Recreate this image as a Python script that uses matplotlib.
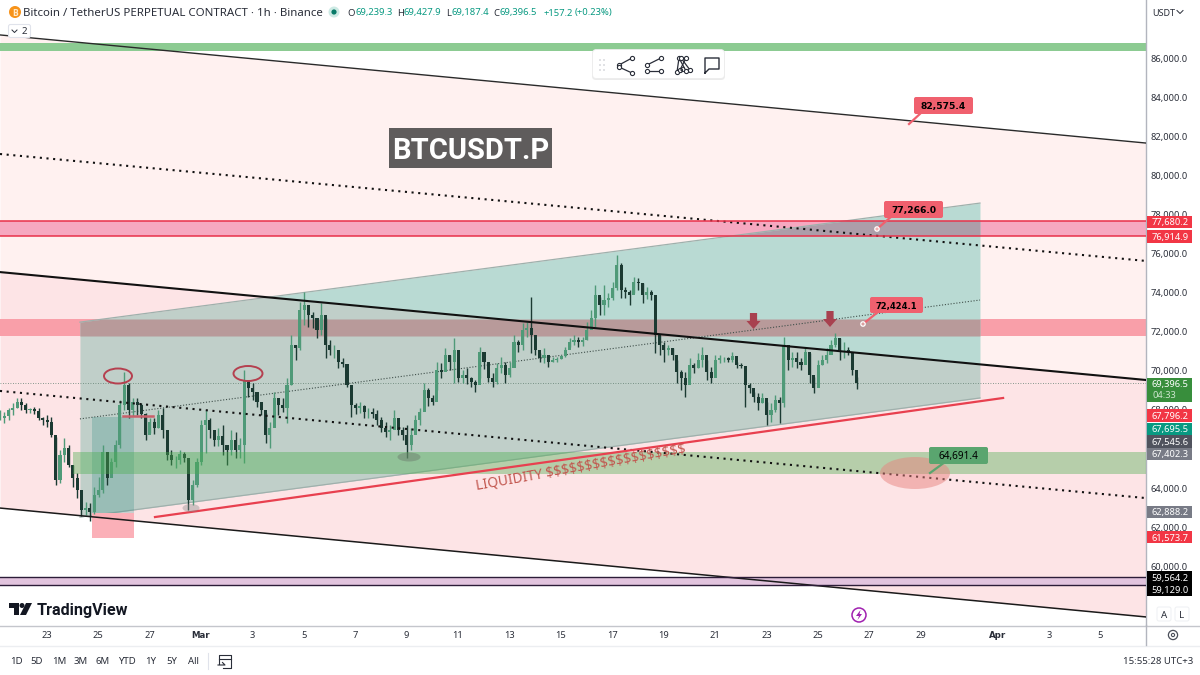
import numpy as np
import matplotlib
matplotlib.use("Agg")
import matplotlib.pyplot as plt
from matplotlib.patches import Ellipse, FancyBboxPatch, Polygon, Rectangle, Circle

plt.rcParams['font.family'] = ['Noto Sans', 'DejaVu Sans']

# ---- data: 4-hour bars, prices in thousands of USDT
first_bar_day = -7.82   # days relative to 1 March
highs = [68.00,67.90,68.10,68.36,68.61,68.61,68.36,68.10,68.15,68.10,67.64,67.74,67.64,66.61,65.95,66.56,66.20,65.18,64.77,63.91,63.29,63.24,64.06,64.57,66.20,65.79,65.54,66.46,68.51,69.94,69.38,68.61,68.61,68.36,67.84,67.59,67.59,68.00,68.10,66.97,65.95,65.64,65.95,65.85,65.44,64.42,65.54,67.49,68.00,67.59,66.97,67.07,
 67.23,66.20,66.97,66.87,66.56,70.04,69.43,69.38,68.76,68.41,67.84,67.38,68.92,68.61,68.61,69.63,71.83,71.32,73.52,74.03,73.21,73.01,72.60,73.47,72.70,71.58,71.32,71.07,70.65,70.30,69.28,68.36,68.41,68.25,68.10,68.10,68.00,67.64,67.38,67.23,68.00,67.38,67.13,67.23,67.07,67.74,68.10,69.38,69.12,68.76,70.45,
 70.40,71.17,70.81,71.68,70.30,70.04,70.14,69.68,69.53,71.22,70.70,70.14,69.89,70.40,70.70,70.45,70.45,71.83,71.58,72.45,72.50,73.78,71.42,70.91,71.17,70.70,70.70,70.70,70.81,71.22,71.68,71.83,71.73,71.73,72.50,73.11,74.39,73.78,74.39,73.98,74.55,75.93,75.52,74.29,74.13,74.80,74.75,74.50,74.29,74.13,
 73.11,71.83,71.48,71.32,71.17,70.55,70.04,69.94,70.65,70.40,70.91,71.22,70.55,70.19,70.81,70.81,70.70,70.70,70.96,70.45,70.40,70.14,69.38,68.92,68.87,68.87,68.41,68.36,68.76,68.66,71.73,71.17,70.96,70.96,70.65,71.22,70.91,69.68,70.55,70.81,71.17,71.58,71.93,71.68,71.48,71.22,70.81,69.68]
lows = [67.49,67.33,67.49,67.74,68.10,68.00,67.84,67.84,67.79,67.49,67.23,67.13,66.61,64.16,64.26,65.34,65.08,64.06,63.50,62.57,62.62,62.32,62.67,63.55,63.75,64.16,64.62,65.08,66.05,68.00,67.59,67.69,67.74,67.59,66.46,66.82,66.77,67.07,66.56,65.44,65.18,65.03,65.23,65.34,62.88,63.13,64.06,65.18,65.79,66.56,66.15,66.15,
 65.69,65.18,65.69,65.54,65.54,65.28,68.66,68.51,68.15,67.74,66.31,66.05,67.59,67.74,67.90,67.33,69.28,70.55,71.07,72.34,72.24,72.19,71.68,71.83,70.65,70.81,70.65,70.14,70.19,69.17,67.64,67.79,67.84,67.59,67.59,67.59,67.23,66.87,66.61,66.46,67.13,66.71,66.46,65.54,65.95,66.87,67.23,68.10,68.20,68.25,69.02,
 69.63,70.14,70.04,69.38,69.43,69.38,69.33,69.17,68.92,69.63,70.09,69.43,69.17,69.33,69.89,69.38,69.68,70.45,70.96,71.07,71.73,70.91,70.81,70.45,70.40,70.19,70.45,70.45,70.60,70.70,71.22,71.32,71.22,71.27,71.58,72.19,72.24,72.85,72.85,73.27,73.62,74.13,73.73,73.73,73.37,73.98,74.13,73.47,73.68,73.62,
 70.91,70.81,70.45,70.81,70.55,69.38,69.02,68.66,69.63,69.89,70.14,70.19,69.53,69.38,69.89,70.40,70.45,70.45,70.45,70.14,70.14,68.15,68.87,68.41,68.00,68.36,67.23,67.38,67.90,67.33,68.15,70.04,70.19,70.14,70.04,70.40,69.38,68.87,69.53,70.30,70.40,70.91,71.22,70.55,70.65,70.81,69.79,69.07]
closes = [67.59,67.69,68.00,68.10,68.41,68.25,68.00,68.05,67.95,67.59,67.49,67.38,66.71,64.42,65.69,66.05,65.18,64.52,63.91,62.88,62.98,62.78,63.65,63.91,65.85,64.52,65.34,66.20,68.25,69.28,68.00,68.41,68.25,67.79,66.71,67.38,67.07,67.74,66.97,65.69,65.44,65.44,65.74,65.54,63.39,64.16,65.34,67.23,67.49,66.97,66.46,66.66,
 66.20,65.95,66.46,65.95,66.20,69.53,69.12,68.92,68.41,68.00,66.71,67.07,68.61,68.25,68.10,69.28,71.32,71.17,73.11,73.37,72.85,72.70,72.09,72.85,71.32,71.07,71.07,70.45,70.35,69.28,68.25,68.10,68.20,67.90,67.90,67.79,67.49,67.07,66.87,66.97,67.59,66.97,66.71,66.20,66.71,67.49,67.90,69.02,68.61,68.41,70.04,
 69.94,70.81,70.45,71.07,69.63,69.79,69.63,69.43,69.28,70.96,70.45,69.63,69.43,70.14,70.30,69.79,70.14,71.48,71.32,72.09,72.19,71.83,71.07,70.65,70.81,70.45,70.55,70.60,70.76,71.07,71.48,71.58,71.48,71.58,72.09,72.70,73.88,73.37,73.62,73.73,74.24,75.41,74.13,74.03,73.88,74.55,74.50,73.88,74.03,73.88,
 71.83,71.32,71.07,71.17,70.81,69.94,69.63,69.28,70.30,70.14,70.55,70.81,69.94,69.63,70.55,70.65,70.65,70.55,70.76,70.30,70.25,69.28,69.12,68.66,68.36,68.61,67.74,68.00,68.51,68.36,71.32,70.55,70.65,70.45,70.30,70.96,69.79,69.12,70.30,70.55,70.81,71.32,71.68,71.07,71.07,70.96,70.04,69.40]

# axis ticks (66,000 sits fully behind the price labels in the reference)
price_ticks = [60000,62000,64000,68000,70000,72000,74000,76000,78000,80000,82000,84000,86000]
date_tick_days = [-6,-4,-2,0,2,4,6,8,10,12,14,16,18,20,22,24,26,28,31,33,35]
date_tick_labels = ['23','25','27','Mar','3','5','7','9','11','13','15','17','19','21','23','25','27','29','Apr','3','5']

# descending channel: prices (thousands) at the left and right chart edges
edge_days = [-7.82, 36.77]
ch_top = [87.18, 81.65]
ch_upper_dot = [81.09, 75.62]
ch_mid = [75.05, 69.53]
ch_lower_dot = [68.97, 63.49]
ch_bottom = [62.98, 57.41]

# rising channel
rise_days = [-4.71, 30.31]
rise_top = [72.49, 78.58]
rise_mid = [67.54, 73.62]
rise_bottom = [62.52, 68.61]
trend_days = [-1.79, 31.21]
trend_prices = [62.52, 68.61]

# horizontal zones (thousands)
zone_top_green = (86.36, 86.77)
zone_red_high = (76.915, 77.680)
zone_red_mid = (71.78, 72.65)
zone_liquidity = (64.72, 65.85)
zone_purple = (59.06, 59.47)
last_price = 69.3965

# ---- figure
W, H = 1200, 675
fig = plt.figure(figsize=(12, 6.75), dpi=100, facecolor='white')
ax = fig.add_axes([0, 50/H, 1146/W, 625/H])
ax.set_xlim(-7.82, 36.77)
ax.set_ylim(56998, 88967)
ax.set_facecolor('white')
k = 1000.0

def arr(v):
    return np.array(v, dtype=float) * k

xs = np.linspace(edge_days[0], edge_days[1], 1200)
def line(days, vals, x=xs):
    slope = (vals[1]-vals[0])/(days[1]-days[0])
    return k*(vals[0] + slope*(x-days[0]))

# channel fills
ax.fill_between(xs, line(edge_days, ch_top), line(edge_days, ch_mid), color='#fff1f0', lw=0, zorder=1)
ax.fill_between(xs, line(edge_days, ch_mid), line(edge_days, ch_bottom), color='#fde4e6', lw=0, zorder=1)

# outer parts of the zones
ax.axhspan(zone_red_high[0]*k, zone_red_high[1]*k, color='#f6a8c0', lw=0, zorder=1.5)
ax.axhspan(zone_red_mid[0]*k, zone_red_mid[1]*k, color='#f99fa9', lw=0, zorder=1.5)
ax.axhspan(zone_top_green[0]*k, zone_top_green[1]*k, color='#8ccb92', lw=0, zorder=1.5)
ax.axhspan(zone_purple[0]*k, zone_purple[1]*k, color='#e2c4de', lw=0, zorder=1.5)

# rising channel box, two tones either side of the black mid line
xr = np.linspace(rise_days[0], rise_days[1], 800)
rt = line(rise_days, rise_top, xr); rb = line(rise_days, rise_bottom, xr); blk = line(edge_days, ch_mid, xr)
ax.fill_between(xr, rt, np.maximum(blk, rb), where=rt > blk, color='#b9dad3', lw=0, zorder=2)
ax.fill_between(xr, np.minimum(rt, blk), rb, color='#c0cfc9', lw=0, zorder=2)
def inside(z, c):
    lo = np.maximum(z[0]*k, rb); hi = np.minimum(z[1]*k, rt)
    ax.fill_between(xr, lo, hi, where=hi > lo, color=c, lw=0, zorder=2.2)
inside(zone_red_high, '#ad9da9')
inside(zone_red_mid, '#b89a9a')
ax.plot(rise_days, arr(rise_top), color='#9fb0ac', lw=0.9, zorder=2.4)
ax.plot(rise_days, arr(rise_bottom), color='#9fb0ac', lw=0.9, zorder=2.4)
ax.plot(rise_days, arr(rise_mid), color='#3f4f4a', lw=0.8, ls=(0, (1, 1.6)), zorder=2.6)

# last price line
ax.axhline(last_price*k, color='#5f7f70', lw=0.6, ls=(0, (1, 2)), zorder=2.5)

# long position tool
ax.add_patch(Rectangle((-4.24, 62730), 1.63, 4910, color='#00786e', alpha=0.2, lw=0, zorder=2.7))
ax.add_patch(Rectangle((-4.24, 61450), 1.63, 1280, color='#fbb0b8', lw=0, zorder=2.7))

# candles
h, l, c = arr(highs), arr(lows), arr(closes)
assert len(h) == len(l) == len(c)
o = np.r_[c[0], c[:-1]]
days = first_bar_day + np.arange(len(c))/6.0
up = c >= o
ax.vlines(days[up], l[up], h[up], color='#4f9a78', lw=1.0, zorder=3)
ax.vlines(days[~up], l[~up], h[~up], color='#1b3a32', lw=1.0, zorder=3)
ax.bar(days[up], (c-o)[up], bottom=o[up], width=0.12, color='#4f9a78', lw=0, zorder=3.1)
ax.bar(days[~up], (o-c)[~up], bottom=c[~up], width=0.12, color='#1b3a32', lw=0, zorder=3.1)

# green liquidity zone over the candles
ax.fill_between([-4.98, 36.77], zone_liquidity[0]*k, zone_liquidity[1]*k, color='#4caf50', alpha=0.4, lw=0, zorder=3.5)

# channel lines
ax.plot(edge_days, arr(ch_top), color='#2a2a2a', lw=1.0, zorder=5)
ax.plot(edge_days, arr(ch_upper_dot), color='#111111', lw=1.5, ls=(0, (1, 2.2)), zorder=5)
ax.plot(edge_days, arr(ch_mid), color='#111111', lw=1.5, zorder=5)
ax.plot(edge_days, arr(ch_lower_dot), color='#111111', lw=1.5, ls=(0, (1, 2.2)), zorder=5)
ax.plot(edge_days, arr(ch_bottom), color='#1a1a1a', lw=1.1, zorder=5)
ax.plot(trend_days, arr(trend_prices), color='#e8404f', lw=1.6, zorder=5)

# zone borders
for v in zone_red_high:
    ax.axhline(v*k, color='#e8314a', lw=1.1, zorder=5)
for v in zone_purple:
    ax.axhline(v*k, color='#2c1c38', lw=1.0, zorder=5)

# axes / ticks
ax.yaxis.tick_right()
ax.set_yticks(price_ticks)
ax.set_yticklabels([f'{p:,.1f}' for p in price_ticks], fontsize=6.7, color='#2a2e39')
ax.set_xticks(date_tick_days)
ax.set_xticklabels(date_tick_labels, fontsize=6.7, color='#2a2e39')
for t in ax.get_xticklabels():
    if t.get_text() in ('Mar', 'Apr'):
        t.set_fontweight('bold')
        t.set_family('DejaVu Sans')
        t.set_fontsize(6.2)
ax.tick_params(axis='both', length=0)
ax.tick_params(axis='y', pad=3)
ax.tick_params(axis='x', pad=4)
for s in ('top', 'left', 'bottom'):
    ax.spines[s].set_visible(False)
ax.spines['right'].set_color('#b2b5be')
ax.spines['right'].set_linewidth(1)

# ---- overlay in picture pixels: chart annotations and interface chrome
ui = fig.add_axes([0, 0, 1, 1], facecolor='none')
ui.set_xlim(0, W); ui.set_ylim(H, 0); ui.axis('off')

def tag(x0, y0, x1, y1, fc, text, tc='black', fs=6.6, r=2):
    ui.add_patch(FancyBboxPatch((x0+r, y0+r), x1-x0-2*r, y1-y0-2*r, boxstyle=f'round,pad={r},rounding_size={r}',
                                fc=fc, ec='none', zorder=8))
    ui.text((x0+x1)/2, (y0+y1)/2, text, ha='center', va='center_baseline', fontsize=fs, color=tc,
            family='DejaVu Sans', fontweight='bold', zorder=9)

# ellipses
ui.add_patch(Ellipse((118, 376), 28, 15, fc='none', ec='#b5404f', lw=1.4, zorder=6))
ui.add_patch(Ellipse((248, 373.5), 29, 15, fc='none', ec='#b5404f', lw=1.4, zorder=6))
ui.add_patch(Ellipse((191, 508), 17, 8, fc='#8a8a8a', ec='none', alpha=0.4, zorder=6))
ui.add_patch(Ellipse((409, 457), 23, 9, fc='#6f7f70', ec='none', alpha=0.5, zorder=6))
ui.add_patch(Ellipse((915, 473), 70, 32, fc='#e8837f', ec='none', alpha=0.5, zorder=6))
ui.plot([123, 153], [415.7, 415.7], color='#c9606b', lw=1.8, zorder=6)

# arrows
for cx, y0 in ((753.5, 313), (830, 311)):
    ui.add_patch(Polygon([(cx-3.6, y0), (cx+3.6, y0), (cx+3.6, y0+8), (cx+7, y0+8), (cx, y0+16), (cx-7, y0+8), (cx-3.6, y0+8)],
                         fc='#a8414f', ec='none', zorder=7))

# price callouts
ui.plot([909, 922], [124, 112], color='#f0606e', lw=1.6, zorder=7)
tag(914, 97, 973, 114, '#f0606e', '82,575.4')
ui.plot([877, 892], [229, 216], color='#f0606e', lw=1.6, zorder=7)
ui.add_patch(Circle((877, 229), 2.2, fc='#f0b0b0', ec='white', lw=0.9, zorder=8))
tag(884, 201, 943, 218, '#f0606e', '77,266.0')
ui.plot([863, 878], [324, 312], color='#f0606e', lw=1.6, zorder=7)
ui.add_patch(Circle((863, 324), 2.2, fc='#d9a0a0', ec='white', lw=0.9, zorder=8))
tag(870, 297, 923, 313, '#f0606e', '72,424.1', fs=6.0)
ui.plot([930, 945], [473, 462], color='#5aa56f', lw=1.6, zorder=7)
ui.add_patch(FancyBboxPatch((931, 449), 55, 13, boxstyle='round,pad=2,rounding_size=2', fc='#5aa56f', ec='none', zorder=8))
ui.text(958.5, 455.5, '64,691.4', ha='center', va='center_baseline', fontsize=7.2, color='black', zorder=9)

ui.text(477, 490, 'LIQUIDITY $$$$$$$$$$$$$$$$$$', rotation=10, rotation_mode='anchor', ha='left', va='baseline',
        fontsize=9.85, color='#c2574f', zorder=7, parse_math=False)

ui.add_patch(Rectangle((389, 128), 163, 40, fc='#5f5c5c', ec='none', zorder=7))
ui.text(470.5, 148, 'BTCUSDT.P', ha='center', va='center_baseline', fontsize=21, color='white',
        family='Roboto', fontweight='bold', zorder=8)

# right scale labels
def plabel(y0, y1, fc, text, tc='white'):
    ui.add_patch(Rectangle((1147, y0), 45, y1-y0, fc=fc, ec='none', zorder=8))
    ui.text(1170, (y0+y1)/2, text, ha='center', va='center_baseline', fontsize=6.7, color=tc, zorder=9)
plabel(216, 228, '#f23645', '77,680.2')
plabel(230, 243, '#f23645', '76,914.9')
ui.add_patch(Rectangle((1147, 378), 45, 24, fc='#388e3c', ec='none', zorder=8))
ui.text(1170, 384, '69,396.5', ha='center', va='center_baseline', fontsize=6.7, color='white', zorder=9)
ui.text(1164, 395, '04:33', ha='center', va='center_baseline', fontsize=6.7, color='#cde5ce', zorder=9)
plabel(409, 422, '#f23645', '67,796.2')
plabel(422.5, 435, '#089981', '67,695.5')
plabel(435, 448, '#50535e', '67,545.6')
plabel(448, 460, '#787b86', '67,402.3')
plabel(506, 518, '#787b86', '62,888.2')
plabel(531, 543, '#f23645', '61,573.7')
plabel(571, 583.5, '#000000', '59,564.2')
plabel(583.5, 596, '#000000', '59,129.0')

# chrome lines
ui.plot([0, 1200], [625.5, 625.5], color='#c4c6cc', lw=1, zorder=6)
ui.plot([0, 1200], [645.5, 645.5], color='#eceef1', lw=1, zorder=6)
ui.plot([1146, 1146], [625, 645], color='#b2b5be', lw=1, zorder=6)

# header
ui.add_patch(Circle((15, 12), 6, fc='#f7931a', ec='none', zorder=9))
ui.text(15, 12, 'B', ha='center', va='center_baseline', fontsize=5.5, color='#ffe8c8', fontweight='bold', family='DejaVu Sans', zorder=10)
ui.text(23, 12, 'Bitcoin / TetherUS PERPETUAL CONTRACT · 1h · Binance', ha='left', va='center_baseline', fontsize=8.25, color='#2a2e39', zorder=9)
ui.add_patch(Circle((334, 12), 5.5, fc='#cdeae4', ec='none', zorder=9))
ui.add_patch(Circle((334, 12), 2.6, fc='#087a68', ec='none', zorder=10))
for xt, s, col in ((347, 'O', '#2a2e39'), (355, '69,239.3', '#089981'), (397, 'H', '#2a2e39'), (403, '69,427.9', '#089981'),
                   (446, 'L', '#2a2e39'), (452, '69,187.4', '#089981'), (493, 'C', '#2a2e39'), (500, '69,396.5', '#089981'),
                   (543, '+157.2', '#089981'), (575, '(+0.23%)', '#089981')):
    ui.text(xt, 12, s, ha='left', va='center_baseline', fontsize=6.8, color=col, zorder=9)
ui.add_patch(FancyBboxPatch((9, 25), 21, 12, boxstyle='round,pad=0.5,rounding_size=2', fc='white', ec='#e0e3eb', lw=0.8, zorder=9))
ui.plot([12, 14.5, 17], [30, 32.5, 30], color='#2a2e39', lw=0.7, zorder=10)
ui.text(24, 31, '2', ha='center', va='center_baseline', fontsize=7, color='#2a2e39', zorder=10)
ui.text(1152, 12, 'USDT', ha='left', va='center_baseline', fontsize=6.5, color='#2a2e39', zorder=9)
ui.plot([1177, 1180, 1183], [10.5, 13.5, 10.5], color='#2a2e39', lw=0.7, zorder=9)

# floating toolbar
ui.add_patch(FancyBboxPatch((594, 52), 129, 26, boxstyle='round,pad=2,rounding_size=4', fc='#d9d9d9', ec='none', alpha=0.5, zorder=8))
ui.add_patch(FancyBboxPatch((594, 51), 129, 26, boxstyle='round,pad=1.5,rounding_size=4', fc='white', ec='#ececec', lw=0.6, zorder=8))
for gx in (600, 604):
    for gy in (60, 65, 70):
        ui.add_patch(Circle((gx, gy), 0.8, fc='#c4c6cc', ec='none', zorder=9))
def seg(pts):
    pts = np.array(pts, dtype=float)
    ui.plot(pts[:, 0], pts[:, 1], color='#2a2e39', lw=0.9, zorder=9)
    ui.plot(pts[:, 0], pts[:, 1], ls='none', marker='o', ms=3, mfc='white', mec='#2a2e39', mew=0.8, zorder=10)
seg([(632, 58), (619, 65)]); seg([(619, 67), (632, 73)])
seg([(661, 58), (647, 65)]); seg([(647, 71), (661, 71)])
seg([(677, 72), (679, 58), (686, 71)]); seg([(681, 58), (690, 70)]); seg([(686, 58), (680, 70)])
ui.text(682, 70, 'C', fontsize=5, ha='center', va='center', fontweight='bold', family='DejaVu Sans', color='#2a2e39', zorder=10)
ui.plot([705, 705, 719, 719, 709, 705], [73, 58, 58, 69, 69, 73], color='#2a2e39', lw=1.0, zorder=9)

# TradingView logo
ui.add_patch(Polygon([(9, 603), (19, 603), (19, 615), (14, 615), (14, 608), (9, 608)], fc='#131722', ec='none', zorder=9))
ui.add_patch(Circle((22, 605.5), 2.5, fc='#131722', ec='none', zorder=9))
ui.add_patch(Polygon([(26, 603), (32, 603), (26, 615), (20, 615)], fc='#131722', ec='none', zorder=9))
ui.text(37, 609, 'TradingView', ha='left', va='center_baseline', fontsize=11.6, family='Roboto', fontweight='bold', color='#131722', zorder=9)

# lightning marker
ui.add_patch(Circle((859, 615), 7, fc='white', ec='#a020b0', lw=1.1, zorder=9))
ui.add_patch(Polygon([(860.5, 610), (856, 616), (859, 616), (857.5, 620), (862, 614), (859.5, 614)], fc='#a020b0', ec='none', zorder=10))

# A / L buttons, gear
for bx, s in ((1164, 'A'), (1182, 'L')):
    ui.add_patch(FancyBboxPatch((bx-6, 608), 12, 12, boxstyle='round,pad=1,rounding_size=2', fc='white', ec='#eef0f3', lw=0.7, zorder=9))
    ui.text(bx, 614, s, ha='center', va='center_baseline', fontsize=7, color='#2a2e39', zorder=10)
ui.add_patch(Circle((1173, 635), 4.6, fc='none', ec='#4a4e59', lw=0.9, zorder=9))
ui.add_patch(Circle((1173, 635), 1.6, fc='none', ec='#4a4e59', lw=0.8, zorder=9))

# range bar
range_labels = ['1D', '5D', '1M', '3M', '6M', 'YTD', '1Y', '5Y', 'All']
range_x = [16, 37, 59, 81, 103, 127, 151, 172, 193]
for xr_, s in zip(range_x, range_labels):
    ui.text(xr_, 661, s, ha='center', va='center_baseline', fontsize=6.9, color='#2a2e39', zorder=9)
ui.plot([207.5, 207.5], [653, 669], color='#e0e3eb', lw=0.8, zorder=9)
ui.plot([219, 219, 231, 231, 223], [664, 655, 655, 668, 668], color='#2a2e39', lw=0.8, zorder=9)
ui.plot([219, 231], [658.5, 658.5], color='#2a2e39', lw=0.8, zorder=9)
ui.plot([218, 225, 222.5], [665, 665, 662.5], color='#2a2e39', lw=0.8, zorder=9)
ui.text(1193, 661, '15:55:28 UTC+3', ha='right', va='center_baseline', fontsize=6.9, color='#2a2e39', zorder=9)

fig.savefig('out.png', dpi=100)
